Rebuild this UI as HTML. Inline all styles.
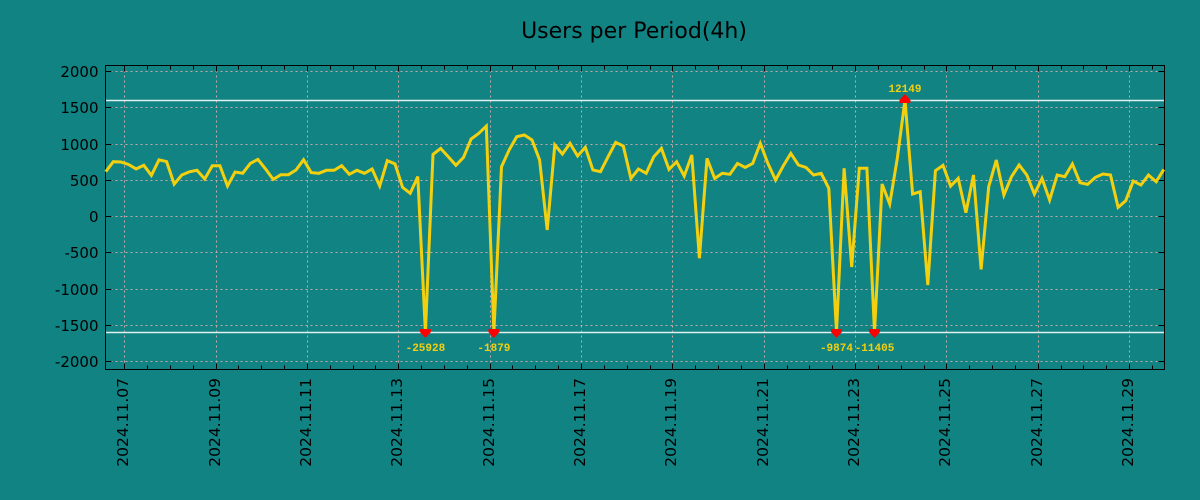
<!DOCTYPE html>
<html><head><meta charset="utf-8"><style>
body{margin:0;background:#118383;}
svg{display:block;font-family:"DejaVu Sans","Liberation Sans",sans-serif;}
</style></head><body>
<svg id="chart" width="1200" height="500" xmlns="http://www.w3.org/2000/svg">
<rect width="1200" height="500" fill="#118383"/>
<text x="634" y="38" font-size="22" text-anchor="middle" fill="#000">Users per Period(4h)</text>
<g id="grid"></g><g id="axes"></g><g id="series"></g>
</svg>
<script>
const values=[611,749,745,710,650,700,560,775,750,440,565,610,630,510,694,694,414,607,590,726,781,648,505,570,570,634,777,598,589,630,630,694,575,630,589,648,414,763,718,395,313,543,-25928,850,933,820,700,808,1062,1140,1240,-1879,680,910,1094,1117,1048,772,-193,979,855,1002,827,947,634,611,818,1016,965,519,648,589,818,933,643,749,551,841,-584,795,519,589,575,726,671,726,1002,726,496,689,864,703,671,565,589,382,-9874,658,-703,658,658,-11405,441,165,795,12149,303,335,-952,625,698,413,519,45,565,-736,404,772,290,542,703,565,303,519,220,565,542,717,459,436,533,579,565,119,211,482,427,565,473,643];
const yTicks=[2000,1500,1000,500,0,-500,-1000,-1500,-2000];
const xTickLabels=["2024.11.07","2024.11.09","2024.11.11","2024.11.13","2024.11.15","2024.11.17","2024.11.19","2024.11.21","2024.11.23","2024.11.25","2024.11.27","2024.11.29"];
const clipLimits=[1600,-1600];
const NS="http://www.w3.org/2000/svg";
const L=105.5,R=1164.5,T=65.5,B=369.5;
const yS=v=>216-v*0.0725;
const xS=i=>105.7+i*7.612;
const dayX=d=>124.3+d*45.67;
function mk(tag,attrs,parent){const e=document.createElementNS(NS,tag);for(const k in attrs)e.setAttribute(k,attrs[k]);parent.appendChild(e);return e;}
const grid=document.getElementById('grid'),axes=document.getElementById('axes'),ser=document.getElementById('series');
yTicks.forEach(v=>{
  const y=Math.round(yS(v))+0.5;
  const g=mk('line',{x1:L,x2:R,y1:y,y2:y,stroke:'#c8a8a8','stroke-dasharray':'2,3','stroke-width':1},grid);
  
  
  mk('line',{x1:L,x2:L+6,y1:y,y2:y,stroke:'#000'},axes);
  mk('line',{x1:R,x2:R-6,y1:y,y2:y,stroke:'#000'},axes);
  const t=mk('text',{x:L-7,y:y+5.5,'font-size':15,'text-anchor':'end',fill:'#000'},axes);
  t.textContent=v;
  
  
});
for(let h=-1;h<48;h++){
  const x=Math.round(dayX(h/2))+0.5;
  if(x<L||x>R)continue;
  const len=h%4===0?6:4;
  mk('line',{x1:x,x2:x,y1:B,y2:B-len,stroke:'#000'},axes);
  mk('line',{x1:x,x2:x,y1:T,y2:T+len,stroke:'#000'},axes);
}
xTickLabels.forEach((s,k)=>{
  const x=Math.round(dayX(k*2))+0.5;
  const g=mk('line',{x1:x,x2:x,y1:T,y2:B,stroke:'#c8a8a8','stroke-dasharray':'2,3'},grid);
  
  
  const t=mk('text',{x:0,y:0,'font-size':15.5,'text-anchor':'end',fill:'#000',transform:`translate(${x+3.5},378) rotate(-90)`},axes);
  t.textContent=s;
  
  
});
clipLimits.forEach(v=>{
  const y=Math.round(yS(v))+0.5;
  const l=mk('line',{x1:L,x2:R,y1:y,y2:y,stroke:'#e0f0f0','stroke-width':1.5},grid);
  
  
});
const fr=mk('rect',{x:L,y:T,width:R-L,height:B-T,fill:'none',stroke:'#000'},axes);


const pts=values.map((v,i)=>[xS(i),yS(Math.max(clipLimits[1],Math.min(clipLimits[0],v)))]);
const line=mk('polyline',{points:pts.map(p=>p[0].toFixed(1)+','+p[1].toFixed(1)).join(' '),fill:'none',stroke:'#f2d010','stroke-width':3,'stroke-linejoin':'miter'},ser);


values.forEach((v,i)=>{
  if(v<=clipLimits[0]&&v>=clipLimits[1])return;
  const x=xS(i),up=v>0,y=yS(up?clipLimits[0]:clipLimits[1]);
  const m=mk('polygon',{points:up?`${x-5.5},${y+3} ${x+5.5},${y+3} ${x+5.5},${y} ${x},${y-6} ${x-5.5},${y}`:`${x-5.5},${y-3} ${x+5.5},${y-3} ${x+5.5},${y} ${x},${y+6} ${x-5.5},${y}`,fill:'#ff0000'},ser);
  
  
  const t=mk('text',{x:x,y:up?y-8:y+19,'font-size':11,'font-weight':'bold','text-anchor':'middle',fill:'#f2d010','font-family':'"Liberation Mono",monospace'},ser);
  t.textContent=v;
  
  
});
</script>
</body></html>
